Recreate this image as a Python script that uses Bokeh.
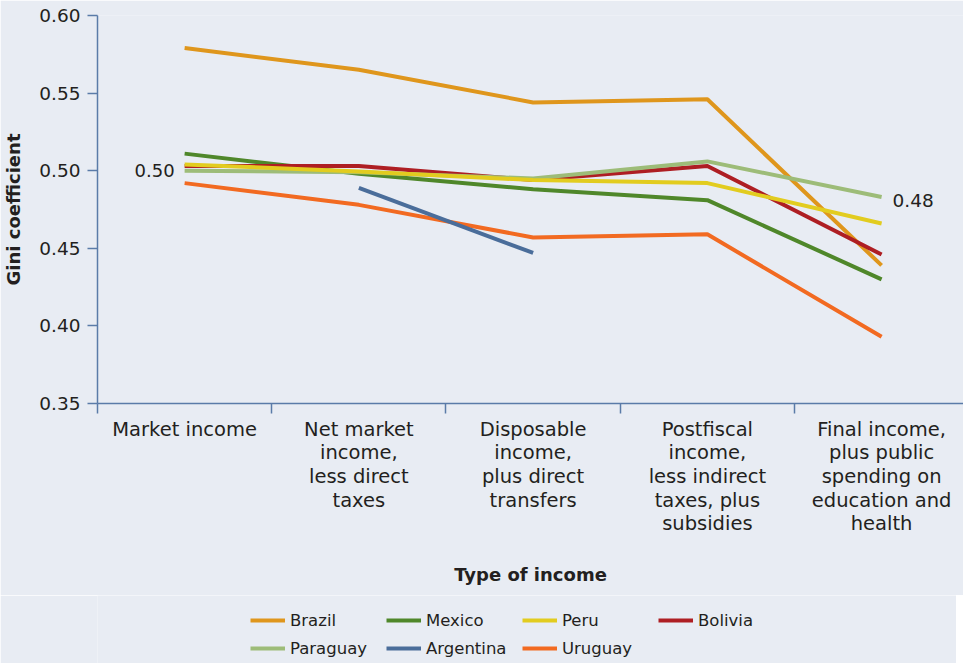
from bokeh.plotting import figure
from bokeh.layouts import column
from bokeh.models import (Range1d, FixedTicker, Legend, LegendItem, Label,
                          LinearAxis)
from bokeh.embed import file_html
from bokeh.resources import INLINE

categories = ["Market income",
              "Net market\nincome,\nless direct\ntaxes",
              "Disposable\nincome,\nplus direct\ntransfers",
              "Postfiscal\nincome,\nless indirect\ntaxes, plus\nsubsidies",
              "Final income,\nplus public\nspending on\neducation and\nhealth"]

brazil = [0.579, 0.565, 0.544, 0.546, 0.439]
mexico = [0.511, 0.498, 0.488, 0.481, 0.430]
peru = [0.504, 0.4995, 0.494, 0.492, 0.466]
bolivia = [0.503, 0.503, 0.494, 0.503, 0.446]
paraguay = [0.500, 0.499, 0.495, 0.506, 0.483]
argentina_x = [1, 2]
argentina = [0.489, 0.447]
uruguay = [0.492, 0.478, 0.457, 0.459, 0.393]

y_ticks = [0.35, 0.40, 0.45, 0.50, 0.55, 0.60]

FONT = "DejaVu Sans"
BG = "#E8ECF3"
AXIS = "#5A7BA8"
TXT = "#231F20"

xs = [0.5, 1.5, 2.5, 3.5, 4.5]

p = figure(frame_width=866, frame_height=388,
           x_range=Range1d(0, 4.97), y_range=Range1d(0.35, 0.60),
           output_backend="svg", toolbar_location=None,
           min_border_left=90, min_border_top=15, min_border_right=0,
           min_border_bottom=192,
           background_fill_color=BG, border_fill_color=BG,
           x_axis_type=None, y_axis_type=None)
p.outline_line_color = None
p.xgrid.visible = False
p.ygrid.visible = False

series = [
    ("Brazil", brazil, "#DF961C"),
    ("Mexico", mexico, "#4F872A"),
    ("Peru", peru, "#E2CC1F"),
    ("Bolivia", bolivia, "#AE1E23"),
    ("Paraguay", paraguay, "#9DBC78"),
    ("Argentina", argentina, "#4A6D9A"),
    ("Uruguay", uruguay, "#F26A21"),
]
draw_order = ["Uruguay", "Argentina", "Brazil", "Mexico", "Bolivia", "Paraguay", "Peru"]
lookup = {n: (v, c) for n, v, c in series}
for name in draw_order:
    vals, col = lookup[name]
    x = [xs[i] for i in argentina_x] if name == "Argentina" else xs
    p.line(x, vals, line_color=col, line_width=4, line_join="round")

# y axis
yax = LinearAxis(ticker=FixedTicker(ticks=y_ticks),
                 major_label_overrides={t: f"{t:.2f}" for t in y_ticks})
yax.axis_line_color = AXIS
yax.axis_line_width = 1.5
yax.major_tick_line_color = AXIS
yax.major_tick_line_width = 1.5
yax.major_tick_in = 0
yax.major_tick_out = 10
yax.minor_tick_line_color = None
yax.major_label_standoff = 7
yax.major_label_text_font = FONT
yax.major_label_text_font_size = "18.5px"
yax.major_label_text_color = TXT
yax.axis_label = "Gini coefficient"
yax.axis_label_text_font = FONT
yax.axis_label_text_font_style = "bold"
yax.axis_label_text_font_size = "18px"
yax.axis_label_text_color = TXT
yax.axis_label_standoff = 12
p.add_layout(yax, "left")

# x axis: labels at category centres, ticks at category boundaries
xax = LinearAxis(ticker=FixedTicker(ticks=xs, minor_ticks=[0, 1, 2, 3, 4, 5]),
                 major_label_overrides={x: c for x, c in zip(xs, categories)})
xax.axis_line_color = AXIS
xax.axis_line_width = 1.5
xax.major_tick_line_color = None
xax.major_tick_in = 0
xax.major_tick_out = 0
xax.minor_tick_line_color = AXIS
xax.minor_tick_line_width = 1.5
xax.minor_tick_in = 0
xax.minor_tick_out = 10
xax.major_label_standoff = 4
xax.major_label_text_font = FONT
xax.major_label_text_font_size = "19.5px"
xax.major_label_text_color = TXT
xax.major_label_text_line_height = 1.03
xax.axis_label = "Type of income"
xax.axis_label_text_font = FONT
xax.axis_label_text_font_style = "bold"
xax.axis_label_text_font_size = "18px"
xax.axis_label_text_color = TXT
xax.axis_label_standoff = 26
p.add_layout(xax, "below")

# value annotations
p.add_layout(Label(x=xs[0], y=paraguay[0], text="0.50", x_offset=-10,
                   text_align="right", text_baseline="middle",
                   text_font=FONT, text_font_size="18px", text_color=TXT))
p.add_layout(Label(x=xs[4], y=paraguay[4], text="0.48", x_offset=11, y_offset=-3,
                   text_align="left", text_baseline="middle",
                   text_font=FONT, text_font_size="18.5px", text_color=TXT))

# legend in a strip below the chart
lg = figure(frame_width=866, height=68, x_range=Range1d(0, 1), y_range=Range1d(0, 1),
            output_backend="svg", toolbar_location=None,
            min_border_left=90, min_border_right=0, min_border_top=0,
            min_border_bottom=0, background_fill_color=BG, border_fill_color=BG,
            x_axis_type=None, y_axis_type=None)
lg.outline_line_color = None
lg.xgrid.visible = False
lg.ygrid.visible = False
items = []
for name, _, col in series:
    r = lg.line([5, 6], [5, 6], line_color=col, line_width=4)
    items.append(LegendItem(label=name, renderers=[r]))
legend = Legend(items=items, orientation="horizontal", ncols=4,
                location=(220, 5),
                background_fill_alpha=0, border_line_color=None,
                label_text_font=FONT, label_text_font_size="16.5px",
                label_text_color=TXT, glyph_width=35, glyph_height=20,
                label_standoff=5, label_width=88, spacing=8, padding=10, margin=0)
lg.add_layout(legend, "center")

open("out.html", "w").write(file_html(column(p, lg, spacing=0), INLINE))
